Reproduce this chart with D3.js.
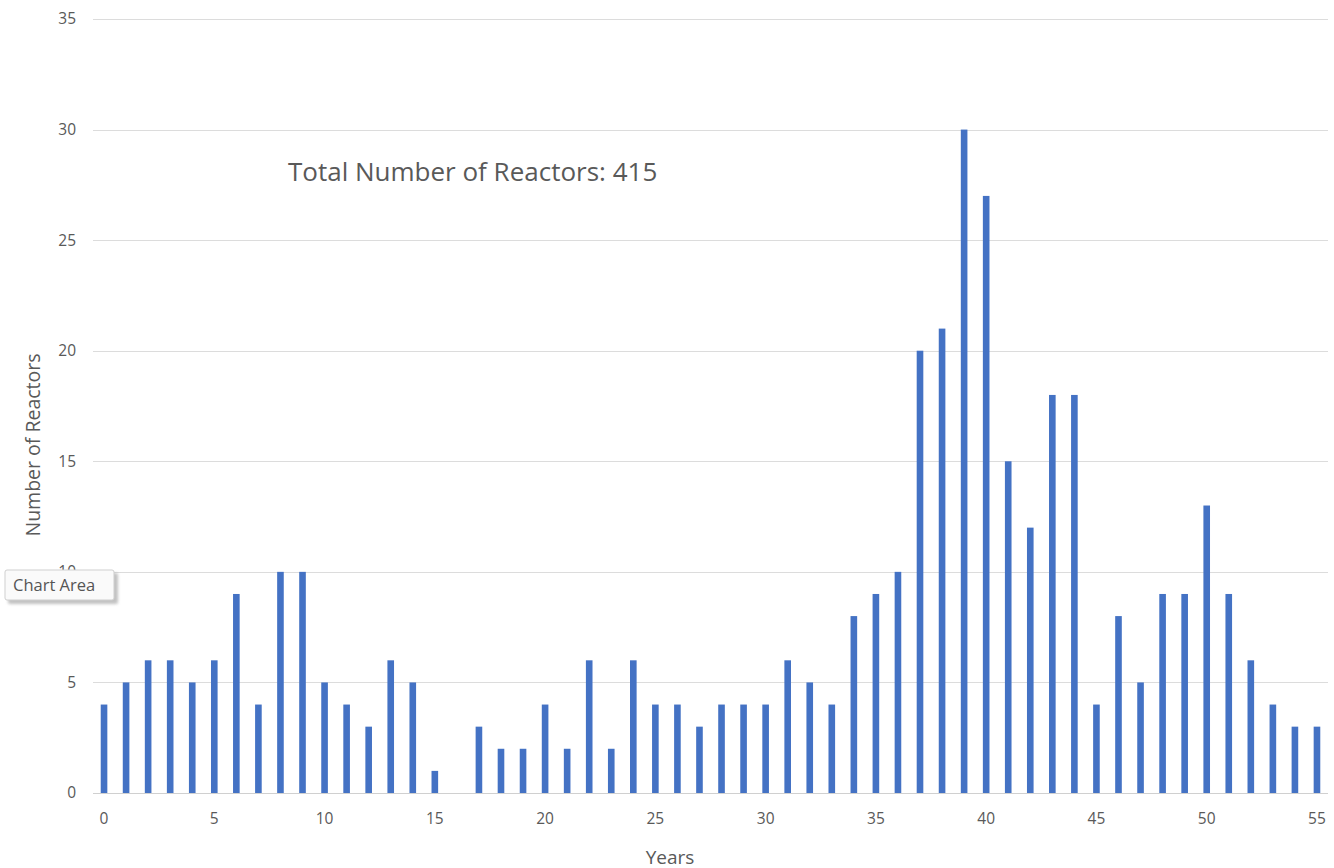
<!DOCTYPE html>
<html>
<head>
<meta charset="utf-8">
<script src="https://cdn.jsdelivr.net/npm/d3@7"></script>
<style>
  html, body { margin: 0; padding: 0; background: #fff; }
  svg { display: block; font-family: "Open Sans", "Noto Sans", sans-serif; }
</style>
</head>
<body>
<svg id="chart" width="1334" height="868"></svg>
<script>
// Reactor counts by age in years
const years = d3.range(0, 56);
const reactors = [
  4, 5, 6, 6, 5, 6, 9, 4, 10, 10,
  5, 4, 3, 6, 5, 1, 0, 3, 2, 2,
  4, 2, 6, 2, 6, 4, 4, 3, 4, 4,
  4, 6, 5, 4, 8, 9, 10, 20, 21, 30,
  27, 15, 12, 18, 18, 4, 8, 5, 9, 9,
  13, 9, 6, 4, 3, 3
];
const yTicks = [0, 5, 10, 15, 20, 25, 30, 35];
const xTickLabels = [0, 5, 10, 15, 20, 25, 30, 35, 40, 45, 50, 55];
const totalLabel = "Total Number of Reactors: " + d3.sum(reactors);

const svg = d3.select("#chart");
const plotLeft = 93, plotRight = 1328, plotTop = 19, plotBottom = 793;
const textColor = "#595959";

const x = d3.scaleBand().domain(years).range([plotLeft, plotRight]).paddingInner(0.7).paddingOuter(0.35);
const y = d3.scaleLinear().domain([0, 35]).range([plotBottom, plotTop]);

// horizontal gridlines
svg.append("g")
  .selectAll("line")
  .data(yTicks)
  .join("line")
  .attr("x1", plotLeft).attr("x2", plotRight)
  .attr("y1", d => Math.round(y(d)) + 0.5).attr("y2", d => Math.round(y(d)) + 0.5)
  .attr("stroke", d => d === 0 ? "#d0d0d0" : "#dcdcdc")
  .attr("stroke-width", 1);

// y axis labels
const yAxis = d3.axisLeft(y).tickValues(yTicks).tickSize(0).tickPadding(0);
svg.append("g")
  .attr("transform", `translate(${plotLeft - 17},0)`)
  .call(yAxis)
  .call(g => g.select(".domain").remove())
  .call(g => g.selectAll("text")
    .attr("fill", textColor).attr("font-size", 15.5)
    .attr("font-family", "Open Sans, Noto Sans, sans-serif"));

// x axis labels every 5 years
const xAxis = d3.axisBottom(x).tickValues(xTickLabels).tickSize(0).tickPadding(0);
svg.append("g")
  .attr("transform", `translate(0,${plotBottom + 20})`)
  .call(xAxis)
  .call(g => g.select(".domain").remove())
  .call(g => g.selectAll("text")
    .attr("fill", textColor).attr("font-size", 15.5)
    .attr("font-family", "Open Sans, Noto Sans, sans-serif"));

// bars
svg.append("g")
  .selectAll("rect")
  .data(years)
  .join("rect")
  .attr("x", d => x(d))
  .attr("width", x.bandwidth())
  .attr("y", (d, i) => y(reactors[i]))
  .attr("height", (d, i) => y(0) - y(reactors[i]))
  .attr("fill", "#4472c4");

// axis titles
svg.append("text")
  .attr("transform", "translate(40,445) rotate(-90)")
  .attr("text-anchor", "middle")
  .attr("fill", textColor).attr("font-size", 19.5)
  .text("Number of Reactors");

svg.append("text")
  .attr("x", 670).attr("y", 864)
  .attr("text-anchor", "middle")
  .attr("fill", textColor).attr("font-size", 19)
  .text("Years");

// total annotation
svg.append("text")
  .attr("x", 288).attr("y", 181)
  .attr("fill", textColor).attr("font-size", 26)
  .text(totalLabel);

// hover tooltip box
const tip = svg.append("g").attr("transform", "translate(5,570)");
tip.append("rect")
  .attr("x", 3).attr("y", 3).attr("width", 110).attr("height", 31)
  .attr("rx", 2).attr("fill", "#9a9a9a").attr("opacity", 0.6)
  .style("filter", "blur(1.5px)");
tip.append("rect")
  .attr("x", 0).attr("y", 0).attr("width", 109).attr("height", 30)
  .attr("rx", 2).attr("fill", "#fafafa").attr("stroke", "#cfcfcf");
tip.append("text")
  .attr("x", 8).attr("y", 21)
  .attr("fill", "#555").attr("font-size", 16.5)
  .text("Chart Area");
</script>
</body>
</html>
